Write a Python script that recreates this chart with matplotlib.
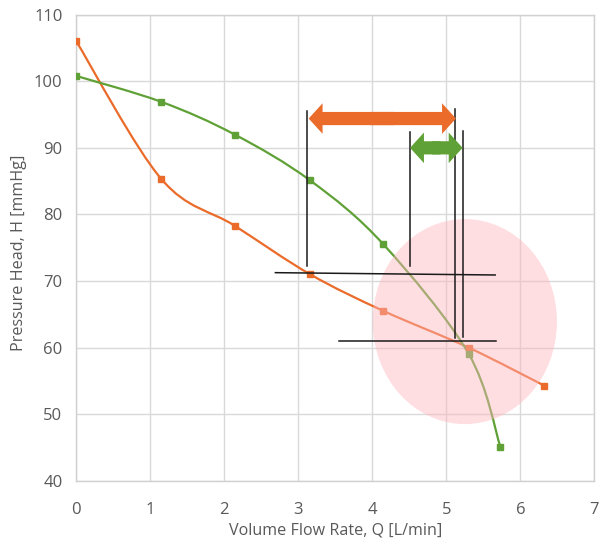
import matplotlib
matplotlib.use("Agg")
import matplotlib.pyplot as plt
from matplotlib.path import Path
from matplotlib.patches import PathPatch, Ellipse, FancyArrowPatch

plt.rcParams["font.family"] = ["Open Sans", "DejaVu Sans"]

# pump curves
q_orange = [0.0, 1.15, 2.14, 3.16, 4.15, 5.30, 6.32]
h_orange = [106.0, 85.3, 78.3, 71.0, 65.5, 60.0, 54.3]
q_green = [0.0, 1.15, 2.14, 3.16, 4.15, 5.30, 5.73]
h_green = [100.8, 96.9, 92.0, 85.1, 75.5, 59.1, 45.1]

# annotation guides (data units)
guide_vlines = [(3.12, 72.2, 95.6), (4.51, 72.2, 92.4), (5.12, 61.4, 95.9), (5.22, 61.6, 92.6)]
guide_hlines = [(2.69, 71.25, 5.66, 70.9), (3.55, 61.05, 5.67, 61.05)]
orange_span = (3.14, 5.13, 94.4)
green_span = (4.51, 5.22, 90.0)
region_center = (5.25, 63.9)
region_size = (2.49, 30.8)

ORANGE = "#ea6b2a"
GREEN = "#5fa136"


def smooth_path(xs, ys):
    # Excel-like smoothed scatter: cubic bezier through the points
    pts = list(zip(xs, ys))
    verts = [pts[0]]
    codes = [Path.MOVETO]
    n = len(pts)
    for i in range(n - 1):
        p0 = pts[max(i - 1, 0)]
        p1 = pts[i]
        p2 = pts[i + 1]
        p3 = pts[min(i + 2, n - 1)]
        c1 = (p1[0] + (p2[0] - p0[0]) / 6, p1[1] + (p2[1] - p0[1]) / 6)
        c2 = (p2[0] - (p3[0] - p1[0]) / 6, p2[1] - (p3[1] - p1[1]) / 6)
        verts += [c1, c2, p2]
        codes += [Path.CURVE4] * 3
    return Path(verts, codes)


fig = plt.figure(figsize=(5.99, 5.48), dpi=100)
ax = fig.add_axes([0.1274, 0.1228, 0.8648, 0.8504])

for xs, ys, col in [(q_orange, h_orange, ORANGE), (q_green, h_green, GREEN)]:
    ax.add_patch(PathPatch(smooth_path(xs, ys), fill=False, edgecolor=col, lw=1.6, zorder=3))
    ax.plot(xs, ys, ls="none", marker="s", ms=4.4, color=col, zorder=4)

ax.add_patch(Ellipse(region_center, region_size[0], region_size[1],
                     facecolor="#ffb6be", alpha=0.45, edgecolor="none", zorder=5))

for x, y0, y1 in guide_vlines:
    ax.plot([x, x], [y0, y1], color="#1a1a1a", lw=1.1, zorder=6)
for x0, y0, x1, y1 in guide_hlines:
    ax.plot([x0, x1], [y0, y1], color="#1a1a1a", lw=1.1, zorder=6)

# double-headed block arrows: two single heads whose tails overlap in the middle
for (x0, x1, y), col in [(orange_span, ORANGE), (green_span, GREEN)]:
    xm = (x0 + x1) / 2
    overlap = 0.08 * (x1 - x0)
    for start, xe in ((xm + overlap, x0), (xm - overlap, x1)):
        ax.add_patch(FancyArrowPatch((start, y), (xe, y),
                                     arrowstyle="simple,head_length=10,head_width=22,tail_width=9.5",
                                     mutation_scale=1, shrinkA=0, shrinkB=0,
                                     color=col, lw=0, zorder=7))

ax.set_xlim(0, 7)
ax.set_ylim(40, 110)
ax.set_xticks(range(0, 8))
ax.set_yticks(range(40, 111, 10))
ax.grid(True, color="#d9d9d9", lw=1.0)
ax.set_axisbelow(True)
for s in ax.spines.values():
    s.set_color("#d0d0d0")
    s.set_linewidth(1.0)
ax.tick_params(length=0, labelsize=12, labelcolor="#595959")
ax.tick_params(axis="x", pad=15)
ax.tick_params(axis="y", pad=10)

ax.set_xlabel("Volume Flow Rate, Q [L/min]", fontsize=11.6, color="#595959")
ax.set_ylabel("Pressure Head, H [mmHg]", fontsize=11.6, color="#595959")
ax.xaxis.set_label_coords(0.5, -0.09)
ax.yaxis.set_label_coords(-0.095, 0.49)

fig.savefig("out.png", dpi=100)
plt.close(fig)
